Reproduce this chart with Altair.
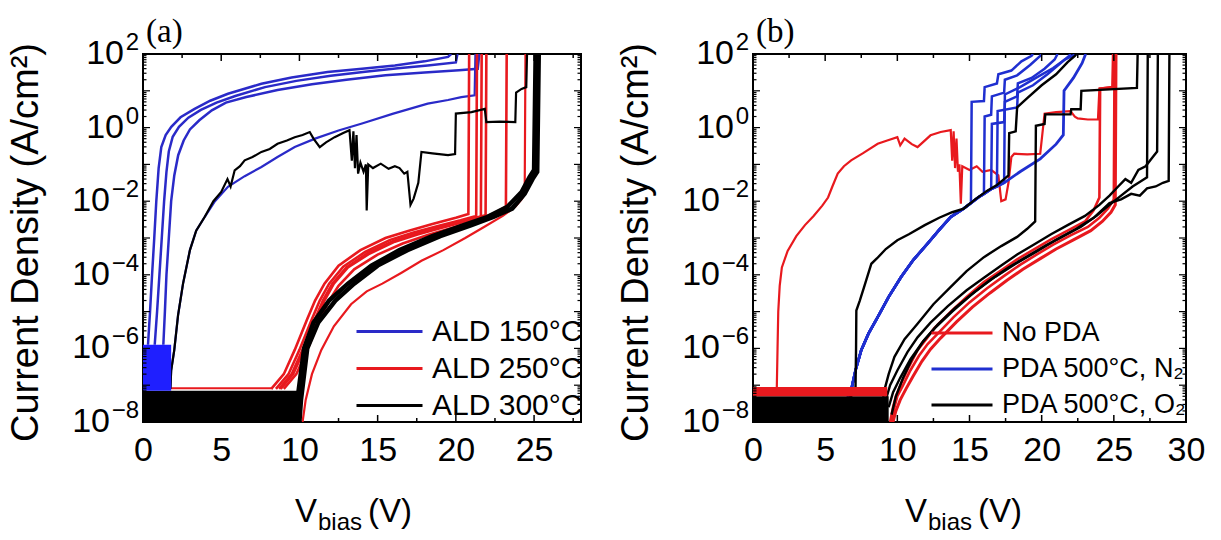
import altair as alt
import pandas as pd

FONT = "Liberation Sans"
SERIF = "Liberation Serif"

# ---------------- axes / labels ----------------
Y_DOMAIN = [1e-8, 1e2]
Y_LABEL_VALUES = [1e-8, 1e-6, 1e-4, 1e-2, 1e0, 1e2]
Y_LABEL_EXPONENTS = ["−8", "−6", "−4", "−2", "0", "2"]
Y_DECADE_TICKS = [1e-8, 1e-7, 1e-6, 1e-5, 1e-4, 1e-3, 1e-2, 1e-1, 1e0, 1e1, 1e2]
Y_MINOR_TICKS = [k * 10.0 ** n for n in range(-8, 2) for k in range(2, 10)]

A_X_DOMAIN = [0, 28]
A_X_TICKS = [0, 5, 10, 15, 20, 25]
A_X_MINOR = [2.5, 7.5, 12.5, 17.5, 22.5, 27.5]
B_X_DOMAIN = [0, 30]
B_X_TICKS = [0, 5, 10, 15, 20, 25, 30]
B_X_MINOR = [2.5, 7.5, 12.5, 17.5, 22.5, 27.5]

A_SERIES = ["ALD 150°C", "ALD 250°C", "ALD 300°C"]
A_COLORS = ["#2a2ac8", "#e8191e", "#000000"]
B_SERIES = ["No PDA", "PDA 500°C, N₂", "PDA 500°C, O₂"]
B_COLORS = ["#e8191e", "#1f2fd0", "#000000"]

# ---------------- panel (a) curves: [V_bias (V), log10 J (A/cm2)] ----------------
A_BLUE_1 = [(0.32, -5.9), (0.45, -5.0), (0.58, -4.0), (0.72, -3.0), (0.85, -2.0), (1.0, -1.1),
            (1.17, -0.53), (1.45, -0.2), (1.81, 0.02), (2.4, 0.28), (3.3, 0.51), (4.3, 0.73),
            (5.43, 0.92), (7.57, 1.19), (9.5, 1.36), (11.8, 1.51), (14, 1.6), (16.1, 1.69),
            (18, 1.8), (19.5, 1.92), (19.7, 2.0)]
A_BLUE_2 = [(0.75, -5.9), (0.9, -5.0), (1.05, -4.0), (1.2, -3.0), (1.35, -2.0), (1.5, -1.2),
            (1.65, -0.65), (1.9, -0.25), (2.3, 0.02), (2.9, 0.27), (3.7, 0.48), (4.7, 0.68),
            (5.9, 0.86), (7.8, 1.1), (9.8, 1.27), (12, 1.41), (14.2, 1.52), (16.3, 1.61),
            (18.2, 1.69), (20.0, 1.77), (20.1, 2.0)]
A_BLUE_3 = [(1.3, -5.9), (1.4, -5.0), (1.5, -4.0), (1.65, -3.0), (1.8, -2.0), (2.0, -1.3),
            (2.25, -0.75), (2.6, -0.35), (3.0, -0.05), (3.6, 0.2), (4.4, 0.47), (5.3, 0.68),
            (6.6, 0.83), (8.6, 1.02), (10.8, 1.18), (13, 1.3), (15.5, 1.42), (18, 1.5),
            (20.2, 1.56), (21.4, 1.6), (21.5, 2.0)]
A_BLUE_4 = [(1.75, -7.1), (1.8, -6.6), (2.0, -6.04), (2.24, -5.1), (2.56, -4.24), (3.0, -3.33),
            (3.4, -2.8), (3.94, -2.43), (4.6, -2.0), (5.43, -1.61), (6.5, -1.32), (7.57, -1.07),
            (8.6, -0.8), (9.7, -0.53), (11, -0.3), (12.5, -0.08), (14, 0.11), (16, 0.38),
            (18.2, 0.65), (19.5, 0.75), (20.35, 0.83), (21.2, 0.88), (21.25, 2.0)]

A_RED_FLOOR = [(1.8, -7.08), (8.3, -7.08)]
A_RED_1 = [(8.2, -7.1), (9.0, -6.7), (9.7, -6.04), (10.5, -5.2), (11.0, -4.7), (11.6, -4.24),
           (12.5, -3.75), (13.9, -3.33), (15.5, -3.0), (17.0, -2.8), (18.5, -2.62), (20.0, -2.45),
           (20.8, -2.35), (20.85, 2.0)]
A_RED_2 = [(8.5, -7.1), (9.3, -6.7), (10.0, -6.04), (10.8, -5.2), (11.3, -4.7), (11.9, -4.24),
           (12.8, -3.78), (14.2, -3.38), (15.8, -3.05), (17.3, -2.85), (18.8, -2.68), (20.3, -2.52),
           (21.3, -2.4), (21.35, 2.0)]
A_RED_3 = [(8.8, -7.1), (9.6, -6.7), (10.3, -6.04), (11.1, -5.2), (11.6, -4.7), (12.2, -4.24),
           (13.1, -3.8), (14.5, -3.42), (16.1, -3.1), (17.6, -2.9), (19.1, -2.72), (20.6, -2.55),
           (21.6, -2.42), (21.65, 2.0)]
A_RED_4 = [(8.7, -7.1), (9.5, -6.7), (10.2, -6.04), (11.0, -5.2), (11.5, -4.7), (12.1, -4.24),
           (13.0, -3.8), (14.4, -3.4), (16.0, -3.08), (17.5, -2.88), (19.0, -2.7), (20.5, -2.53),
           (21.9, -2.38), (21.95, 2.0)]
A_RED_5 = [(9.0, -7.1), (9.8, -6.7), (10.5, -6.04), (11.3, -5.2), (11.9, -4.7), (12.5, -4.3),
           (13.5, -3.85), (15.0, -3.45), (16.6, -3.15), (18.2, -2.92), (19.8, -2.72), (21.3, -2.52),
           (22.5, -2.32), (23.2, -2.15), (23.25, 2.0)]
A_RED_6 = [(10.2, -8.0), (10.4, -7.4), (10.8, -6.7), (11.4, -6.04), (12.2, -5.4), (13.3, -4.8),
           (14.3, -4.45), (15.3, -4.24), (16.5, -3.95), (17.8, -3.62), (19.2, -3.33), (20.6, -3.0),
           (21.8, -2.7), (23.0, -2.4), (23.8, -2.15), (24.2, -1.95), (24.4, -1.8), (24.45, 2.0)]

A_BLACK_1 = [(1.75, -7.1), (1.8, -6.6), (2.0, -6.04), (2.24, -5.1), (2.56, -4.24), (3.0, -3.33),
             (3.4, -2.8), (3.94, -2.43), (4.5, -2.0), (5.0, -1.75), (5.4, -1.4), (5.6, -1.6),
             (5.86, -1.16), (6.2, -1.05), (6.5, -0.89), (7.0, -0.8), (7.57, -0.66), (8.1, -0.58),
             (8.6, -0.44), (9.2, -0.35), (9.7, -0.26), (10.2, -0.2), (10.66, -0.12), (10.9, -0.3),
             (11.3, -0.53), (11.7, -0.4), (12.25, -0.26), (12.8, -0.15), (13.2, -0.07),
             (13.35, -0.9), (13.45, -0.1), (13.55, -1.1), (13.65, -0.2), (13.75, -1.25),
             (13.9, -0.95), (14.1, -1.2), (14.25, -1.0), (14.3, -2.25), (14.4, -1.0), (14.7, -1.1),
             (15.2, -0.98), (15.7, -1.12), (16.1, -1.05), (16.4, -1.1), (16.7, -1.25), (16.9, -1.2),
             (17.1, -2.1), (17.3, -1.93), (17.6, -1.5), (17.8, -0.66), (18.5, -0.7), (19.5, -0.75),
             (19.95, -0.72), (20.0, 0.38), (21.0, 0.42), (21.85, 0.51), (21.95, 0.15), (22.8, 0.16),
             (23.8, 0.15), (23.85, 0.95), (24.2, 1.05), (24.5, 1.1), (24.55, 2.0)]
A_BLACK_2 = [(10.0, -8.0), (10.1, -7.4), (10.5, -6.0), (11.2, -5.3), (12.3, -4.7), (13.5, -4.24),
             (15.0, -3.75), (16.9, -3.33), (19.0, -2.95), (21.0, -2.65), (22.4, -2.43), (23.6, -2.2),
             (24.4, -1.8), (24.9, -1.4), (25.2, -1.2), (25.3, 2.0)]
A_BLACK_3 = [(9.8, -8.0), (9.9, -7.3), (10.3, -6.0), (10.9, -5.3), (11.9, -4.7), (13.1, -4.24),
             (14.6, -3.75), (16.4, -3.33), (18.5, -2.95), (20.5, -2.65), (22.0, -2.43), (23.3, -2.15),
             (24.2, -1.75), (24.7, -1.35), (25.0, -1.15), (25.1, 2.0)]

# noise floors: V extent, lower / upper log10 J
A_FLOOR_BLACK_V = [0, 10.1]
A_FLOOR_BLACK_E = (-8.0, -7.15)
A_FLOOR_BLUE_V = [0, 1.8]
A_FLOOR_BLUE_E = (-7.15, -5.9)

# ---------------- panel (b) curves ----------------
B_RED_A = [(1.65, -7.05), (1.7, -6.0), (1.75, -5.0), (1.85, -4.3), (2.0, -3.8), (2.4, -3.35),
           (3.0, -2.95), (3.6, -2.65), (4.2, -2.4), (4.8, -2.12), (5.2, -1.9), (5.5, -1.6),
           (5.87, -1.25), (6.3, -1.05), (6.8, -0.89), (7.6, -0.7), (8.64, -0.44), (9.3, -0.35),
           (10.0, -0.26), (10.2, -0.48), (10.5, -0.3), (11.0, -0.45), (11.4, -0.53), (12.3, -0.21),
           (13.0, -0.12), (13.7, -0.07), (13.8, -0.9), (13.9, -0.1), (14.0, -1.1), (14.1, -0.3),
           (14.2, -1.2), (14.3, -1.0), (14.4, -2.07), (14.5, -1.05), (15.0, -1.15), (15.5, -1.05),
           (15.9, -1.2), (16.5, -1.15), (17.0, -1.3), (17.2, -2.0), (17.5, -1.95), (17.7, -1.5),
           (17.9, -0.8), (18.1, -0.71), (19.0, -0.73), (19.9, -0.71), (20.2, 0.38), (21.0, 0.42),
           (22.0, 0.45), (22.3, 0.3), (22.5, 0.25), (23.2, 0.22), (23.9, 0.22), (24.0, 1.06),
           (25.0, 1.1), (25.1, 2.0)]
B_RED_1 = [(9.5, -8.0), (9.7, -7.6), (9.9, -7.3), (10.26, -6.96), (10.8, -6.5), (11.4, -6.05),
           (12.0, -5.75), (12.56, -5.45), (13.7, -5.0), (14.8, -4.6), (16.0, -4.2), (17.2, -3.88),
           (18.3, -3.58), (19.5, -3.3), (20.65, -3.04), (21.8, -2.8), (23.0, -2.55), (23.6, -2.25),
           (24.0, -1.9), (24.05, 1.06), (24.9, 1.1), (24.95, 2.0)]
B_RED_2 = [(9.6, -8.0), (9.8, -7.6), (10.0, -7.3), (10.4, -7.0), (10.9, -6.6), (11.5, -6.2),
           (12.1, -5.88), (12.8, -5.6), (13.9, -5.15), (15.0, -4.75), (16.2, -4.37), (17.4, -4.03),
           (18.5, -3.73), (19.7, -3.44), (20.8, -3.18), (22.0, -2.93), (23.2, -2.7), (24.0, -2.45),
           (24.6, -2.2), (25.0, -1.95), (25.05, 2.0)]
B_RED_3 = [(9.7, -8.0), (9.9, -7.7), (10.2, -7.4), (10.6, -7.1), (11.1, -6.75), (11.7, -6.35),
           (12.3, -6.02), (13.0, -5.72), (14.1, -5.28), (15.2, -4.88), (16.4, -4.5), (17.6, -4.15),
           (18.7, -3.85), (19.9, -3.56), (21.0, -3.3), (22.2, -3.05), (23.4, -2.8), (24.2, -2.55),
           (24.8, -2.3), (25.1, -2.1), (25.15, 2.0)]

B_BLUE_BASE = [(6.5, -7.4), (6.8, -7.14), (7.1, -6.6), (7.5, -6.05), (8.0, -5.6), (8.64, -5.15),
               (9.4, -4.6), (10.26, -4.06), (11.1, -3.6), (12.1, -3.15), (12.9, -2.78), (13.7, -2.43),
               (14.6, -2.2), (15.1, -2.05), (15.6, -1.9), (16.0, -1.8), (16.5, -1.67), (16.9, -1.6),
               (17.4, -1.5)]
B_BLUE_1 = B_BLUE_BASE[:14] + [(15.15, 0.7), (16.0, 0.72), (16.05, 1.1), (16.9, 1.2), (17.0, 1.45),
                               (17.9, 1.55), (18.6, 1.8), (19.3, 1.95), (19.4, 2.0)]
B_BLUE_2 = B_BLUE_BASE[:16] + [(16.05, 0.3), (16.5, 0.35), (16.55, 0.85), (17.4, 0.95), (17.45, 1.3),
                               (18.3, 1.42), (19.2, 1.7), (19.9, 1.95), (20.0, 2.0)]
B_BLUE_3 = B_BLUE_BASE[:17] + [(16.55, 0.1), (17.4, 0.15), (17.45, 0.7), (18.3, 0.85), (18.35, 1.2),
                               (19.3, 1.35), (20.2, 1.6), (20.9, 1.85), (21.1, 2.0)]
B_BLUE_4 = B_BLUE_BASE[:18] + [(16.95, 0.45), (18.3, 0.55), (18.35, 0.95), (19.4, 1.15), (20.4, 1.45),
                               (21.3, 1.75), (21.9, 1.95), (22.0, 2.0)]
B_BLUE_5 = B_BLUE_BASE + [(17.45, 0.9), (18.5, 1.1), (19.6, 1.35), (20.8, 1.62), (21.6, 1.85), (22.4, 2.0)]
B_BLUE_6 = B_BLUE_BASE + [(18.5, -1.2), (19.9, -0.85), (21.0, -0.45), (21.5, -0.2), (21.55, 1.0),
                          (22.2, 1.35), (22.8, 1.75), (23.0, 1.95), (23.05, 2.0)]

B_BLACK_1 = [(6.6, -7.4), (7.1, -7.14), (7.14, -6.0), (7.16, -4.97), (7.4, -4.7), (7.7, -4.33),
             (8.2, -3.7), (8.6, -3.55), (9.2, -3.3), (10.0, -3.06), (10.8, -2.9), (11.9, -2.65),
             (12.9, -2.45), (13.8, -2.3), (14.6, -2.2), (15.4, -1.95), (16.2, -1.72), (16.9, -1.56),
             (17.4, -1.4), (17.7, -1.3), (17.75, -0.15), (18.2, -0.1), (18.3, 0.55), (19.0, 0.8),
             (20.0, 1.15), (21.0, 1.45), (21.8, 1.78), (22.3, 1.95), (22.4, 2.0)]
B_BLACK_2 = [(9.0, -7.4), (9.1, -7.14), (9.4, -6.7), (9.8, -6.23), (10.5, -5.75), (11.4, -5.33),
             (12.5, -4.8), (13.7, -4.33), (14.8, -3.9), (16.0, -3.52), (17.2, -3.22), (18.3, -2.97),
             (19.0, -2.75), (19.55, -2.55), (19.6, 0.05), (20.2, 0.1), (20.25, 0.36), (22.0, 0.36),
             (22.05, 0.5), (22.7, 0.5), (22.75, 1.0), (26.6, 1.08), (26.65, 2.0)]
B_BLACK_3 = [(9.2, -7.4), (9.5, -7.0), (10.0, -6.6), (10.7, -6.1), (11.4, -5.7), (12.3, -5.3),
             (13.5, -4.85), (14.8, -4.42), (16.0, -4.08), (17.2, -3.75), (18.3, -3.45), (19.5, -3.17),
             (20.65, -2.9), (21.8, -2.65), (23.0, -2.4), (24.0, -2.1), (24.7, -1.85), (25.3, -1.6),
             (25.8, -1.4), (26.2, -1.5), (26.7, -1.15), (27.2, -1.05), (27.7, -0.8), (28.0, -0.65),
             (28.05, 2.0)]
B_BLACK_4 = [(9.6, -7.8), (9.9, -7.3), (10.4, -6.8), (11.0, -6.3), (11.8, -5.8), (12.8, -5.35),
             (14.0, -4.9), (15.4, -4.45), (16.8, -4.05), (18.2, -3.7), (19.6, -3.38), (21.0, -3.05),
             (22.4, -2.75), (23.6, -2.45), (24.7, -2.05), (25.5, -1.95), (26.2, -1.8), (26.8, -1.85),
             (27.3, -1.65), (27.9, -1.6), (28.4, -1.5), (28.8, -1.45), (28.85, 2.0)]
B_BLACK_5 = [(9.4, -7.6), (9.7, -7.2), (10.2, -6.8), (10.9, -6.3), (11.7, -5.85), (12.6, -5.45),
             (13.8, -5.0), (15.1, -4.55), (16.4, -4.15), (17.7, -3.8), (19.0, -3.5), (20.3, -3.2),
             (21.5, -2.95), (22.7, -2.7), (23.8, -2.4), (24.7, -2.1), (25.5, -1.85), (26.3, -1.6),
             (26.9, -1.45), (27.3, -1.35), (27.35, 2.0)]

B_FLOOR_BLACK_V = [0, 9.4]
B_FLOOR_BLACK_E = (-8.0, -7.3)
B_FLOOR_RED_V = [0, 9.3]
B_FLOOR_RED_E = (-7.3, -7.05)

# curve registry: (series index, points, stroke width)
A_CURVES = [
    (0, A_BLUE_1, 2.5), (0, A_BLUE_2, 2.5), (0, A_BLUE_3, 2.5), (0, A_BLUE_4, 2.2),
    (1, A_RED_FLOOR, 2.0), (1, A_RED_1, 2.6), (1, A_RED_2, 2.6), (1, A_RED_3, 2.6),
    (1, A_RED_4, 2.6), (1, A_RED_5, 2.6), (1, A_RED_6, 2.2),
    (2, A_BLACK_1, 2.2), (2, A_BLACK_2, 4.5), (2, A_BLACK_3, 4.5),
]
B_CURVES = [
    (0, B_RED_A, 2.2), (0, B_RED_1, 2.6), (0, B_RED_2, 2.6), (0, B_RED_3, 3.0),
    (1, B_BLUE_1, 2.5), (1, B_BLUE_2, 2.5), (1, B_BLUE_3, 2.5), (1, B_BLUE_4, 2.5),
    (1, B_BLUE_5, 2.5), (1, B_BLUE_6, 2.8),
    (2, B_BLACK_1, 2.4), (2, B_BLACK_2, 2.4), (2, B_BLACK_3, 2.4), (2, B_BLACK_4, 2.4),
    (2, B_BLACK_5, 2.4),
]

W_A, W_B, H = 438, 433, 368


def build_lines(curves, names, tag):
    rows = []
    for cid, (si, pts, w) in enumerate(curves):
        for i, (v, e) in enumerate(pts):
            rows.append({"curve": f"{tag}{cid:02d}", "series": names[si], "i": i,
                         "V": v, "J": 10.0 ** e, "w": w})
    return pd.DataFrame(rows)


def text_at(s, x, y, size, font=FONT):
    return alt.Chart(pd.DataFrame({"t": [s]})).mark_text(
        font=font, fontSize=size, align="left", baseline="alphabetic", color="black"
    ).encode(text="t:N", x=alt.value(x), y=alt.value(y))


def panel(tag, label, curves, names, colors, xdom, xmajor, xminor, W, bands, leg):
    xs = alt.Scale(domain=xdom, nice=False, zero=False)
    ys = alt.Scale(type="log", domain=Y_DOMAIN, nice=False)
    xaxis = alt.Axis(values=xmajor, ticks=False, tickSize=0, domain=False, grid=False,
                     labelFontSize=34, labelFont=FONT, labelColor="black", labelPadding=11,
                     labelFlush=False, title=None)
    yaxis = alt.Axis(values=Y_LABEL_VALUES, labels=False, ticks=False, tickSize=0,
                     domain=False, grid=False, title="Current Density (A/cm²)", titleFontSize=38,
                     titleFont=FONT, titleFontWeight="normal", titleColor="black",
                     titleX=-117, titleY=188, titleAngle=270, titleAlign="center",
                     titleBaseline="middle")
    X = lambda: alt.X("V:Q", scale=xs, axis=xaxis)
    Y = lambda: alt.Y("J:Q", scale=ys, axis=yaxis)

    df = build_lines(curves, names, tag)
    lines = alt.Chart(df).mark_line(clip=True, strokeCap="butt").encode(
        x=X(), y=Y(),
        color=alt.Color("series:N", scale=alt.Scale(domain=names, range=colors), legend=leg),
        detail="curve:N",
        order="i:Q",
        size=alt.Size("w:Q", scale=None, legend=None),
    )
    layers = [lines]
    for vs, ee, col in bands:
        d = pd.DataFrame({"V": vs, "J": [10.0 ** ee[0]] * len(vs), "J2": [10.0 ** ee[1]] * len(vs)})
        layers.append(alt.Chart(d).mark_area(color=col, opacity=1, clip=True).encode(
            x=X(), y=Y(), y2="J2:Q"))
    for vals, L in [(xmajor, 7), (xminor, 4)]:
        d = pd.DataFrame({"V": vals})
        layers.append(alt.Chart(d).mark_rule(color="black", strokeWidth=1.5).encode(
            x=X(), y=alt.value(H), y2=alt.value(H - L)))
        layers.append(alt.Chart(d).mark_rule(color="black", strokeWidth=1.5).encode(
            x=X(), y=alt.value(0), y2=alt.value(L)))
    for vals, L in [(Y_DECADE_TICKS, 7), (Y_MINOR_TICKS, 3.5)]:
        d = pd.DataFrame({"J": vals})
        layers.append(alt.Chart(d).mark_rule(color="black", strokeWidth=1.2).encode(
            y=Y(), x=alt.value(0), x2=alt.value(L)))
        layers.append(alt.Chart(d).mark_rule(color="black", strokeWidth=1.2).encode(
            y=Y(), x=alt.value(W), x2=alt.value(W - L)))

    # y tick labels: "10" with a raised exponent
    lab = pd.DataFrame({"J": Y_LABEL_VALUES, "e": Y_LABEL_EXPONENTS, "b": ["10"] * len(Y_LABEL_VALUES)})
    neg = lab[lab["e"].str.startswith("−")]
    pos = lab[~lab["e"].str.startswith("−")]
    layers.append(alt.Chart(neg).mark_text(font=FONT, fontSize=34, align="right", baseline="middle",
                                           color="black", dx=-33).encode(
        y=Y(), x=alt.value(0), text="b:N"))
    layers.append(alt.Chart(pos).mark_text(font=FONT, fontSize=34, align="right", baseline="middle",
                                           color="black", dx=-19).encode(
        y=Y(), x=alt.value(0), text="b:N"))
    layers.append(alt.Chart(lab).mark_text(font=FONT, fontSize=24, align="right", baseline="middle",
                                           color="black", dx=-4, dy=-11).encode(
        y=Y(), x=alt.value(0), text="e:N"))

    layers.append(text_at(label, 3, -12, 33, SERIF))
    layers.append(text_at("V", 152, 468, 33))
    layers.append(text_at("bias", 175, 476, 24))
    layers.append(text_at("(V)", 225, 468, 33))
    return alt.layer(*layers).properties(width=W, height=H)


leg_a = alt.Legend(title=None, orient="none", legendX=212, legendY=259, symbolType="stroke",
                   symbolSize=66 * 66, symbolStrokeWidth=3, clipHeight=37, rowPadding=0,
                   labelFontSize=30, labelFont=FONT, labelColor="black", labelOffset=8,
                   padding=0, labelLimit=0)
leg_b = alt.Legend(title=None, orient="none", legendX=177, legendY=261, symbolType="stroke",
                   symbolSize=61 * 61, symbolStrokeWidth=3, clipHeight=36, rowPadding=0,
                   labelFontSize=27, labelFont=FONT, labelColor="black", labelOffset=8,
                   padding=0, labelLimit=0)

pa = panel("a", "(a)", A_CURVES, A_SERIES, A_COLORS, A_X_DOMAIN, A_X_TICKS, A_X_MINOR, W_A,
           [(A_FLOOR_BLACK_V, A_FLOOR_BLACK_E, "#000000"), (A_FLOOR_BLUE_V, A_FLOOR_BLUE_E, "#1f1fff")],
           leg_a)
pb = panel("b", "(b)", B_CURVES, B_SERIES, B_COLORS, B_X_DOMAIN, B_X_TICKS, B_X_MINOR, W_B,
           [(B_FLOOR_BLACK_V, B_FLOOR_BLACK_E, "#000000"), (B_FLOOR_RED_V, B_FLOOR_RED_E, "#e8191e")],
           leg_b)

chart = (
    alt.hconcat(pa, pb, spacing=31)
    .resolve_scale(color="independent", x="independent", y="independent")
    .resolve_legend(color="independent")
    .properties(padding={"left": 5, "top": 15, "right": 0, "bottom": 0})
    .configure(background="white")
    .configure_view(stroke="black", strokeWidth=2)
)

chart.save("out.html", embed_options={"renderer": "svg", "actions": False})
